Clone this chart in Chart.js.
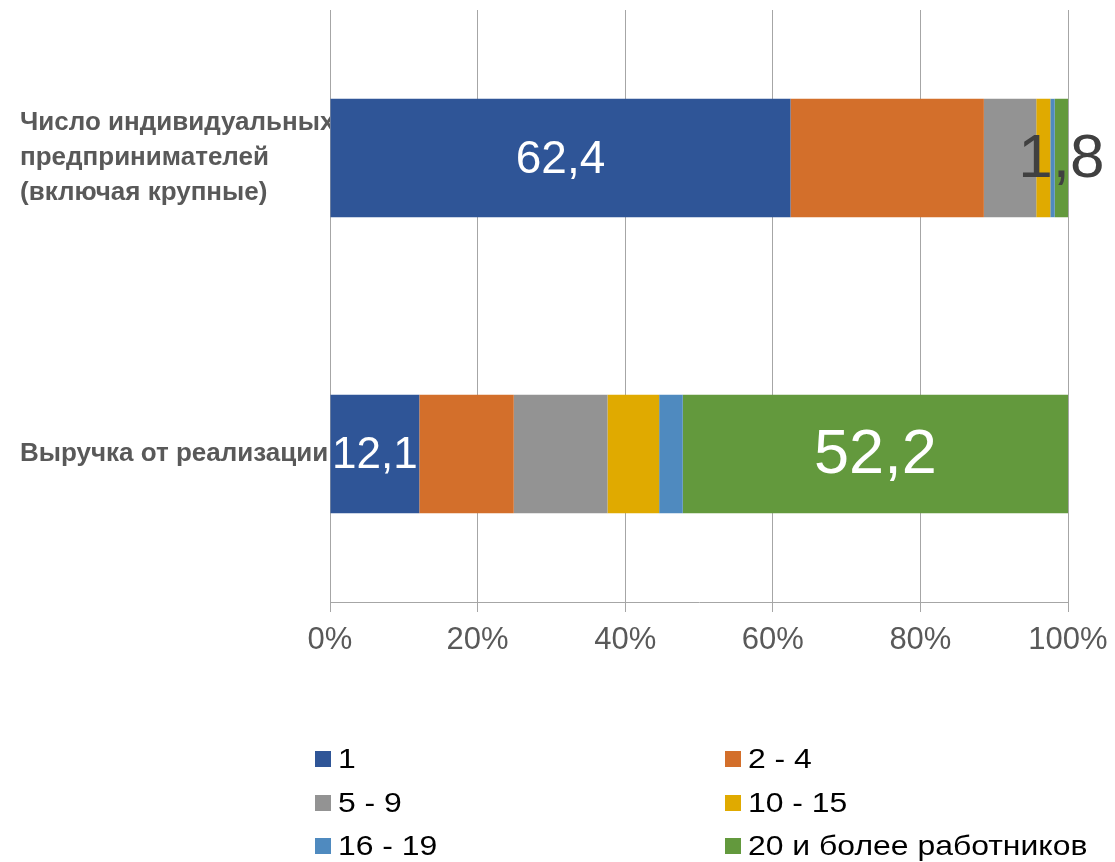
<!DOCTYPE html>
<html lang="ru">
<head>
<meta charset="utf-8">
<script src="https://cdn.jsdelivr.net/npm/chart.js@4/dist/chart.umd.min.js"></script>
<style>
  html, body { margin: 0; padding: 0; background: #fff; }
  body { width: 1115px; height: 862px; position: relative; overflow: hidden; font-family: 'Liberation Sans', Arial, sans-serif; }
  #wrap { position: absolute; left: 0; top: 0; width: 1115px; height: 680px; }
  #legend { position: absolute; left: 0; top: 0; width: 1115px; height: 862px; pointer-events: none; }
  .item { position: absolute; height: 30px; display: flex; align-items: center; color: #000; white-space: nowrap; }
  .item .box { width: 16px; height: 16px; margin-right: 7px; display: inline-block; }
  .item .txt { font-size: 28px; display: inline-block; transform: scaleX(1.14); transform-origin: left center; }
</style>
</head>
<body>
<div id="wrap"><canvas id="chart"></canvas></div>
<div id="legend"></div>
<script>
const CATEGORIES = [
  ['Число индивидуальных', 'предпринимателей', '(включая крупные)'],
  'Выручка от реализации',
];
const SERIES_NAMES = ['1', '2 - 4', '5 - 9', '10 - 15', '16 - 19', '20 и более работников'];
const SERIES_1 = [62.4, 12.1];
const SERIES_2_4 = [26.2, 12.8];
const SERIES_5_9 = [7.1, 12.7];
const SERIES_10_15 = [1.9, 7.0];
const SERIES_16_19 = [0.6, 3.2];
const SERIES_20_PLUS = [1.8, 52.2];
const X_TICKS = [0, 20, 40, 60, 80, 100];

const COLORS = ['#2f5597', '#d36f2b', '#939393', '#e0aa00', '#4f8abf', '#63993d'];
const FONT = "'Liberation Sans', Arial, sans-serif";

// which segments carry a value label: [series index, category index, colour, font size]
const VALUE_LABELS = [
  [0, 0, '#ffffff', 46],
  [5, 0, '#404040', 62],
  [0, 1, '#ffffff', 44],
  [5, 1, '#ffffff', 63],
];

const seriesData = [SERIES_1, SERIES_2_4, SERIES_5_9, SERIES_10_15, SERIES_16_19, SERIES_20_PLUS];

const valueLabels = {
  id: 'valueLabels',
  afterDatasetsDraw(chart) {
    const ctx = chart.ctx;
    ctx.save();
    ctx.textAlign = 'center';
    ctx.textBaseline = 'middle';
    VALUE_LABELS.forEach(([s, c, color, size]) => {
      const el = chart.getDatasetMeta(s).data[c];
      const v = chart.data.datasets[s].data[c];
      ctx.fillStyle = color;
      ctx.font = size + 'px ' + FONT;
      ctx.fillText(v.toFixed(1).replace('.', ','), (el.x + el.base) / 2, el.y + 2);
    });
    ctx.restore();
  },
};

new Chart(document.getElementById('chart'), {
  type: 'bar',
  data: {
    labels: CATEGORIES,
    datasets: SERIES_NAMES.map((name, i) => ({
      label: name,
      data: seriesData[i],
      backgroundColor: COLORS[i],
      borderWidth: 0,
      barPercentage: 0.4,
      categoryPercentage: 1,
    })),
  },
  options: {
    indexAxis: 'y',
    responsive: true,
    maintainAspectRatio: false,
    animation: false,
    layout: { padding: { left: 20, right: 47, top: 10, bottom: 0 } },
    scales: {
      x: {
        stacked: true,
        min: 0,
        max: 100,
        afterBuildTicks: (axis) => { axis.ticks = X_TICKS.map((v) => ({ value: v })); },
        ticks: {
          color: '#595959',
          font: { family: FONT, size: 31 },
          padding: 10,
          callback: (v) => v + '%',
          maxRotation: 0,
        },
        grid: { color: '#a6a6a6', lineWidth: 1, tickLength: 10, drawTicks: true },
        border: { display: true, color: '#a6a6a6' },
        afterFit: (axis) => {
          axis.height = 78;
          axis.paddingLeft = 0;
          axis.paddingRight = 0;
        },
      },
      y: {
        stacked: true,
        ticks: {
          color: '#595959',
          font: { family: FONT, size: 26, weight: 'bold', lineHeight: 1.35 },
          crossAlign: 'far',
          padding: 0,
        },
        grid: { display: false },
        border: { display: false },
        afterFit: (axis) => {
          axis.width = 310;
          axis.paddingTop = 0;
          axis.paddingBottom = 0;
        },
      },
    },
    plugins: {
      legend: { display: false },
      tooltip: { enabled: false },
    },
  },
  plugins: [valueLabels],
});

// legend in two columns under the chart
const legend = document.getElementById('legend');
const LEGEND_X = [315, 725];
const LEGEND_Y = [759, 803, 846];
SERIES_NAMES.forEach((name, i) => {
  const item = document.createElement('div');
  item.className = 'item';
  item.style.left = LEGEND_X[i % 2] + 'px';
  item.style.top = (LEGEND_Y[Math.floor(i / 2)] - 15) + 'px';
  item.innerHTML = '<span class="box" style="background:' + COLORS[i] + '"></span><span class="txt">' + name + '</span>';
  legend.appendChild(item);
});
</script>
</body>
</html>
